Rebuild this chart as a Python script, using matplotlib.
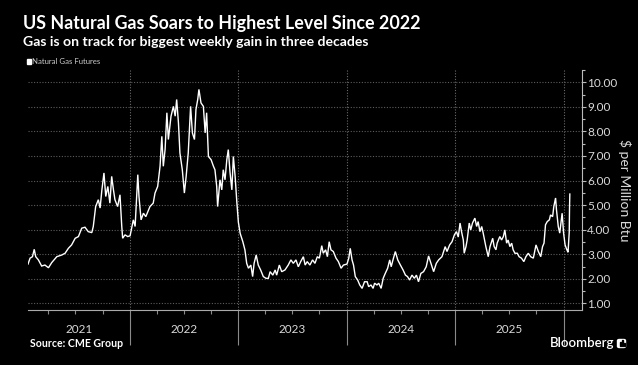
import pandas as pd
import matplotlib
matplotlib.use("Agg")
import matplotlib.pyplot as plt
import matplotlib.dates as mdates
import matplotlib.transforms as mtrans
from matplotlib.ticker import MultipleLocator, FixedLocator
from matplotlib.patches import Rectangle, FancyBboxPatch

# front-month Henry Hub settles ("MM-DD", $/MMBtu)
d21 = ["01-22", "01-29", "02-06", "02-12", "02-17", "02-26", "03-09", "03-20", "04-01", "04-12",
       "04-29", "05-16", "05-27", "06-07", "06-18", "06-30", "07-11", "07-22", "08-02", "08-13",
       "08-25", "08-30", "09-07", "09-16", "09-22", "09-28", "10-05", "10-11", "10-18", "10-25",
       "10-31", "11-06", "11-11", "11-20", "11-28", "12-04", "12-07", "12-15", "12-24"]
p21 = [2.60, 2.84, 2.90, 3.20, 2.90, 2.77, 2.52, 2.56, 2.45, 2.66,
       2.90, 2.97, 3.04, 3.24, 3.38, 3.65, 3.72, 4.06, 4.10, 3.92,
       3.88, 4.13, 4.94, 5.22, 4.88, 5.62, 6.31, 5.35, 5.76, 5.08,
       6.17, 5.62, 5.22, 4.94, 5.42, 4.13, 3.65, 3.79, 3.72]

d22 = ["01-01", "01-12", "01-18", "01-27", "01-31", "02-07", "02-15", "02-23", "03-09", "03-20",
       "03-26", "04-04", "04-12", "04-18", "04-23", "04-29", "05-05", "05-10", "05-19", "05-27",
       "06-02", "06-07", "06-13", "06-18", "06-26", "07-03", "07-09", "07-16", "07-24", "07-30",
       "08-06", "08-11", "08-17", "08-21", "08-28", "09-05", "09-11", "09-16", "09-22", "10-01",
       "10-09", "10-14", "10-20", "10-23", "10-31", "11-06", "11-11", "11-17", "11-23", "11-28",
       "12-04", "12-10", "12-15", "12-21", "12-27"]
p22 = [3.75, 4.40, 4.13, 6.24, 5.35, 4.40, 4.67, 4.53, 4.94, 5.08,
       5.49, 5.76, 6.58, 7.80, 6.58, 7.26, 8.76, 7.67, 8.62, 9.02,
       8.62, 9.30, 8.35, 7.12, 6.44, 5.49, 6.17, 7.12, 9.02, 7.94,
       7.67, 8.89, 9.30, 9.71, 9.16, 9.02, 7.94, 8.76, 6.98, 6.85,
       6.58, 6.44, 5.76, 4.94, 6.03, 5.62, 6.44, 6.03, 6.85, 7.26,
       6.31, 5.62, 6.98, 6.17, 5.08]

d23 = ["01-01", "01-07", "01-16", "01-23", "01-29", "02-04", "02-12", "02-18", "02-23", "03-02",
       "03-09", "03-17", "03-26", "04-04", "04-12", "04-18", "04-27", "05-05", "05-10", "05-19",
       "05-27", "06-07", "06-18", "06-27", "07-05", "07-14", "07-22", "07-30", "08-08", "08-14",
       "08-21", "08-30", "09-08", "09-16", "09-24", "10-01", "10-09", "10-14", "10-22", "10-28",
       "11-03", "11-09", "11-17", "11-26", "12-04", "12-13", "12-21"]
p23 = [4.30, 3.85, 3.51, 3.18, 2.63, 2.43, 2.56, 2.09, 2.63, 2.97,
       2.56, 2.36, 2.09, 2.02, 2.02, 2.29, 2.15, 2.36, 2.15, 2.56,
       2.29, 2.36, 2.56, 2.77, 2.63, 2.77, 2.49, 2.70, 2.90, 2.56,
       2.70, 2.56, 2.77, 2.63, 2.90, 2.84, 3.35, 3.04, 3.18, 2.90,
       3.51, 3.18, 3.11, 2.84, 2.70, 2.43, 2.56]

d24 = ["01-02", "01-08", "01-13", "01-19", "01-24", "01-30", "02-07", "02-14", "02-22", "03-01",
       "03-10", "03-15", "03-23", "03-30", "04-04", "04-12", "04-18", "04-26", "05-03", "05-10",
       "05-18", "05-25", "05-30", "06-05", "06-13", "06-21", "06-30", "07-09", "07-17", "07-24",
       "07-31", "08-08", "08-16", "08-23", "08-30", "09-07", "09-16", "09-25", "10-03", "10-11",
       "10-20", "10-29", "11-06", "11-17", "11-28", "12-04", "12-13", "12-21", "12-29"]
p24 = [2.60, 2.84, 3.24, 2.77, 2.56, 2.09, 1.95, 1.75, 1.61, 1.88,
       1.88, 1.68, 1.75, 1.61, 1.82, 1.75, 1.82, 1.61, 2.02, 2.22,
       2.43, 2.77, 2.49, 2.77, 3.11, 2.77, 2.56, 2.36, 2.15, 2.09,
       1.95, 2.15, 2.02, 2.15, 1.88, 2.22, 2.29, 2.49, 2.93, 2.63,
       2.29, 2.63, 2.77, 2.90, 3.31, 3.11, 3.38, 3.51, 3.79]

d25 = ["01-05", "01-11", "01-17", "01-22", "01-28", "01-31", "02-06", "02-10", "02-17", "02-22",
       "02-28", "03-08", "03-14", "03-19", "03-25", "03-31", "04-05", "04-14", "04-22", "04-28",
       "05-07", "05-12", "05-18", "05-22", "05-31", "06-06", "06-12", "06-17", "06-23", "06-28",
       "07-04", "07-10", "07-15", "07-21", "07-29", "08-04", "08-12", "08-20", "08-27", "09-04",
       "09-12", "09-21", "09-30", "10-08", "10-16", "10-22", "10-27", "11-01", "11-07", "11-14",
       "11-18", "11-25", "11-29", "12-05", "12-08", "12-14", "12-19", "12-23", "12-27"]
p25 = [3.92, 3.70, 4.27, 3.92, 3.58, 3.04, 3.31, 3.58, 4.27, 3.99,
       4.27, 4.47, 4.13, 4.33, 3.92, 4.13, 3.86, 3.31, 2.90, 3.31,
       3.65, 3.31, 3.18, 3.45, 3.72, 3.58, 3.72, 3.99, 3.45, 3.58,
       3.31, 3.45, 3.18, 3.04, 3.04, 2.90, 2.84, 2.70, 2.90, 3.04,
       2.90, 2.84, 3.38, 3.11, 2.90, 3.31, 3.45, 4.20, 4.33, 4.40,
       4.60, 4.53, 4.94, 5.29, 4.81, 4.13, 3.86, 4.27, 4.67]

d26 = ["01-01", "01-06", "01-12", "01-16", "01-20", "01-21", "01-22"]
p26 = [3.86, 3.38, 3.18, 3.08, 3.90, 4.90, 5.45]

years = [2021, 2022, 2023, 2024, 2025, 2026]
yticks = [1, 2, 3, 4, 5, 6, 7, 8, 9, 10]

title = "US Natural Gas Soars to Highest Level Since 2022"
subtitle = "Gas is on track for biggest weekly gain in three decades"
series_name = "Natural Gas Futures"
source = "Source: CME Group"
ylabel = r"\$ per Million Btu"

dates, prices = [], []
for yr, dd, pp in zip(years, [d21, d22, d23, d24, d25, d26], [p21, p22, p23, p24, p25, p26]):
    dates += [pd.Timestamp(f"{yr}-{d}") for d in dd]
    prices += pp

plt.rcParams['font.family'] = ['Lato', 'DejaVu Sans']

W, H = 638, 365
fig = plt.figure(figsize=(W / 100, H / 100), dpi=100, facecolor='black')
ax = fig.add_axes([28 / W, 1 - 310 / H, (581.7 - 28) / W, 240 / H])
ax.set_facecolor('black')

ax.plot(dates, prices, color='white', lw=1.0, solid_joinstyle='miter')

ax.set_xlim(pd.Timestamp("2021-01-22"), pd.Timestamp("2026-03-03"))
ax.set_ylim(0.73, 10.5)

# y axis on the right
ax.yaxis.tick_right()
ax.yaxis.set_major_locator(FixedLocator(yticks))
ax.set_yticklabels([f"{v:.2f}" for v in yticks])
ax.yaxis.set_minor_locator(MultipleLocator(0.5))
ax.tick_params(axis='y', which='major', direction='out', length=3, width=0.8,
               color='#bbbbbb', labelcolor='#d9d9d9', labelsize=8.5, pad=1)
ax.tick_params(axis='y', which='minor', direction='out', length=2, width=0.8, color='#bbbbbb')
ax.grid(axis='y', which='major', color='#5c5c5c', ls=(0, (1, 1.5)), lw=0.8)

# x axis: year separators + quarter ticks
yr_starts = [pd.Timestamp(f"{y}-01-01") for y in years[1:]]
ax.xaxis.set_major_locator(mdates.YearLocator())
ax.xaxis.set_minor_locator(mdates.MonthLocator(bymonth=[4, 7, 10]))
ax.xaxis.set_major_formatter(plt.NullFormatter())
ax.tick_params(axis='x', which='major', direction='out', length=25, width=0.8, color='#8a8a8a')
ax.tick_params(axis='x', which='minor', direction='out', length=3, width=0.8, color='#8a8a8a')
for d in yr_starts:
    ax.axvline(d, color='#6a6a6a', ls=(0, (1, 1.5)), lw=0.8, zorder=0)

trans = mtrans.blended_transform_factory(ax.transData, ax.transAxes)
left = ax.get_xlim()[0]
label_pos = [mdates.num2date((left + mdates.date2num(yr_starts[0])) / 2)]
label_pos += [pd.Timestamp(f"{y}-07-02") for y in years[1:5]]
for y, xp in zip(years[:5], label_pos):
    ax.text(xp, -0.08, str(y), transform=trans, ha='center', va='center',
            color='#d9d9d9', fontsize=8.5)

for s in ['left', 'top']:
    ax.spines[s].set_visible(False)
ax.spines['right'].set_color('#bbbbbb')
ax.spines['right'].set_linewidth(0.8)
ax.spines['bottom'].set_color('#aaaaaa')
ax.spines['bottom'].set_linewidth(0.8)

fig.text(625 / W, 1 - 190 / H, ylabel, rotation=270, ha='center', va='center',
         color='#d9d9d9', fontsize=10)

# titles
fig.text(23 / W, 1 - 23 / H, title, ha='left', va='center', color='white',
         fontsize=12.9, fontweight='bold')
fig.text(23 / W, 1 - 41.5 / H, subtitle, ha='left', va='center', color='white',
         fontsize=10.1, fontweight='bold')

# legend
fig.patches.append(Rectangle((26.7 / W, 1 - 63.8 / H), 4.5 / W, 4.5 / H,
                             transform=fig.transFigure, color='white'))
fig.text(32.5 / W, 1 - 61.8 / H, series_name, ha='left', va='center',
         color='#cccccc', fontsize=5.6)

# footer
fig.text(30 / W, 1 - 343.5 / H, source, ha='left', va='center', color='white',
         fontsize=7.6, fontweight='bold')
fig.text(614 / W, 1 - 343 / H, "Bloomberg", ha='right', va='center', color='white',
         fontsize=9.5, fontweight='semibold')
fig.patches.append(FancyBboxPatch((617.5 / W, 1 - 347.5 / H), 8 / W, 8 / H,
                                  boxstyle='round,pad=0,rounding_size=0.003',
                                  transform=fig.transFigure, color='white'))
for bx, bh in [(619.5, 4), (621.5, 6), (623.5, 3)]:
    fig.patches.append(Rectangle((bx / W, 1 - 346 / H), 1 / W, bh / H,
                                 transform=fig.transFigure, color='black'))

fig.savefig("out.png", dpi=100, facecolor='black')
